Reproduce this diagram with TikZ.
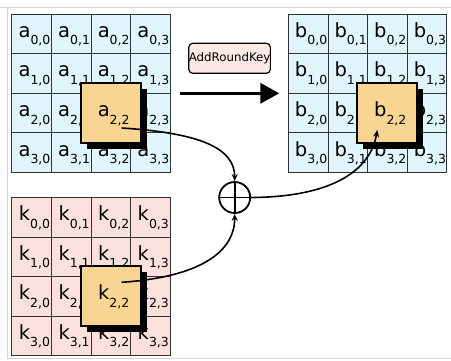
\documentclass[tikz,border=0pt]{standalone}
\usepackage{fontspec}
\setmainfont{DejaVu Sans}
\usetikzlibrary{arrows.meta,shadows,calc}
\definecolor{cellblue}{HTML}{E1F5FC}
\definecolor{cellpink}{HTML}{FBE1DD}
\definecolor{hlfill}{HTML}{F8D592}
\definecolor{gridline}{HTML}{333333}
\definecolor{framegray}{HTML}{D4D4D4}
\definecolor{keyfill}{HTML}{FCE8E5}
\newcommand{\celltxt}[2]{\hspace*{6pt}\fontsize{19.5}{19.5}\selectfont #1\raisebox{-7.5pt}{\fontsize{12.5}{12.5}\selectfont #2}}
\begin{document}
\begin{tikzpicture}[x=1pt,y=-1pt,
  cellbox/.style={draw=gridline,line width=0.8pt,minimum size=39.6pt,inner sep=0pt,text height=15pt,text depth=8pt},
  hlbox/.style={draw=black,line width=1.8pt,fill=hlfill,minimum size=60pt,inner sep=0pt,text height=15pt,text depth=8pt,
    drop shadow={shadow xshift=6pt,shadow yshift=-6pt,fill=black,opacity=1}},
  conn/.style={line width=1.6pt,-{Stealth[length=7pt,width=6pt]}},
  framestyle/.style={draw=framegray,line width=1pt}]
\useasboundingbox (0,0) rectangle (451,360);
\fill[white] (0,0) rectangle (451,360);
\draw[framestyle] (0,7) -- (451,7);
\draw[framestyle] (7,7) -- (7,358) -- (451,358);
% grids
\foreach \r in {0,...,3}{
  \foreach \c in {0,...,3}{
    \node[cellbox,fill=cellblue] (a\r\c) at ({11.7+19.8+39.6*\c},{14+19.8+39.6*\r}) {\celltxt{a}{\r,\c}};
    \node[cellbox,fill=cellblue] (b\r\c) at ({288.3+19.8+39.6*\c},{14+19.8+39.6*\r}) {\celltxt{b}{\r,\c}};
    \node[cellbox,fill=cellpink] (k\r\c) at ({11.7+19.8+39.6*\c},{197.3+19.8+39.6*\r}) {\celltxt{k}{\r,\c}};
  }
}
% highlights
\node[hlbox] (ahl) at (a22.center) {\celltxt{a}{2,2}};
\node[hlbox] (bhl) at (b22.center) {\celltxt{b}{2,2}};
\node[hlbox] (khl) at (k22.center) {\celltxt{k}{2,2}};
% AddRoundKey
\node[draw=black,line width=1.2pt,rounded corners=4pt,fill=keyfill,minimum width=79pt,minimum height=30pt,inner sep=0pt] (ark) at (229.6,58.3) {\fontsize{11.8}{11.8}\selectfont AddRoundKey};
\coordinate (arrs) at (180,93.3);
\coordinate (arre) at (279.3,93.3);
\draw[line width=3.5pt,-{Triangle[length=19pt,width=20pt]}] (arrs) -- (arre);
% xor
\node[draw=black,line width=1.8pt,circle,minimum size=31pt,inner sep=0pt] (xor) at (234.7,197.5) {};
\draw[line width=1.8pt] (xor.north) -- (xor.south) (xor.west) -- (xor.east);
% connectors
\coordinate (as) at ($(ahl.center)+(11,15)$);
\coordinate (ks) at ($(khl.center)+(11,-14)$);
\coordinate (be) at ($(bhl.center)+(-10,17)$);
\draw[conn] (as) .. controls (200,133) and (234.7,148) .. (xor.north);
\draw[conn] (ks) .. controls (200,277) and (234.7,252) .. (xor.south);
\draw[conn] (xor.east) .. controls (330,197) and (370,172) .. (be);
\end{tikzpicture}
\end{document}
